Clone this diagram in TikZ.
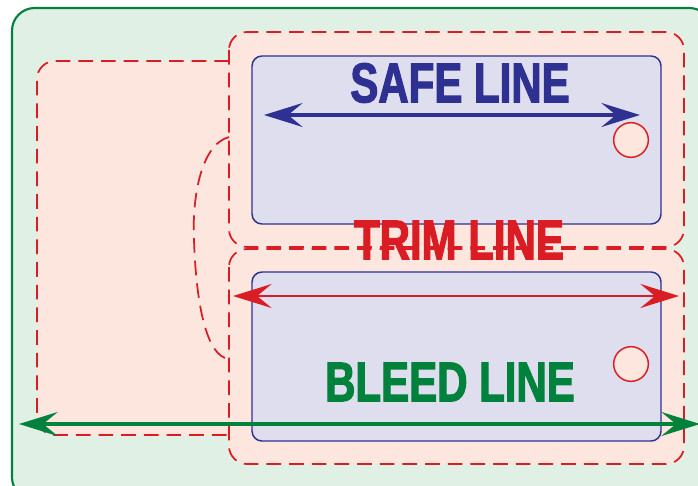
\documentclass[tikz,border=0pt]{standalone}
\usepackage{fontspec}
\setmainfont{Liberation Sans}
\newfontfamily\signfont[FakeStretch=0.75, FakeBold=2]{Liberation Sans Bold}
\usepackage{xcolor}
\usetikzlibrary{arrows.meta,calc}
\definecolor{bleedgreen}{RGB}{0,130,61}
\definecolor{bleedfill}{RGB}{225,240,229}
\definecolor{trimred}{RGB}{218,28,36}
\definecolor{trimfill}{RGB}{252,230,221}
\definecolor{safeblue}{RGB}{46,49,146}
\definecolor{safefill}{RGB}{223,222,238}
\tikzset{
	trimline/.style={draw=trimred, line width=1.3pt, dash pattern=on 11pt off 6pt},
	panel/.style={draw=safeblue, fill=safefill, line width=1.1pt, rounded corners=7.5pt},
	hole/.style={draw=trimred, line width=1.1pt, fill=trimfill},
	signtext/.style={font=\signfont\fontsize{42pt}{42pt}\selectfont, inner sep=0pt},
	measure/.style={line width=2.3pt, {Stealth[length=29pt, width=18pt, inset=11pt]}-{Stealth[length=29pt, width=18pt, inset=11pt]}}
}

\begin{document}
\begin{tikzpicture}[x=0.75pt, y=-0.75pt]
	\useasboundingbox (0,0) rectangle (698,485);

	% Draw the bleed area
	\draw[draw=bleedgreen, fill=bleedfill, line width=1.6pt, rounded corners=17pt] (12,8) rectangle (712,500);

	% Draw the trim areas
	\fill[trimfill, rounded corners=13.5pt] (240,61) -- (37,61) -- (37,435) -- (240,435) -- cycle;
	\draw[trimline, rounded corners=13.5pt] (229,61) -- (37,61) -- (37,435) -- (229,435);
	\draw[trimline, fill=trimfill, rounded corners=13.5pt] (229,32) rectangle (684,247);
	\draw[trimline, fill=trimfill, rounded corners=13.5pt] (229,249) rectangle (684,464);
	\draw[trimline] (229,137) .. controls (200,145) and (192,200) .. (194,240)
		.. controls (196,300) and (205,350) .. (225,358);

	% Draw the safe panels
	\draw[panel] (252,56) rectangle (661,224);
	\draw[panel] (252,272) rectangle (661,441);

	% Draw the holes
	\draw[hole] (631,140) circle[radius=13pt];
	\draw[hole] (631,364) circle[radius=13pt];

	% Labels
	\node[signtext, text=safeblue] (safe) at (460,83) {SAFE LINE};
	\node[signtext, text=trimred] (trim) at (459,240) {TRIM LINE};
	\node[signtext, text=bleedgreen] (bleed) at (450,382) {BLEED LINE};

	% Ends of the measures
	\coordinate (safeW) at (264,115);
	\coordinate (safeE) at (640,115);
	\coordinate (trimW) at (233,296);
	\coordinate (trimE) at (679,296);
	\coordinate (bleedW) at (19,424);
	\coordinate (bleedE) at (700,424);

	% Draw the measures
	\draw[measure, safeblue] (safeW) -- (safeE);
	\draw[measure, trimred, line width=2pt] (trimW) -- (trimE);
	\draw[measure, bleedgreen] (bleedW) -- (bleedE);
\end{tikzpicture}
\end{document}
